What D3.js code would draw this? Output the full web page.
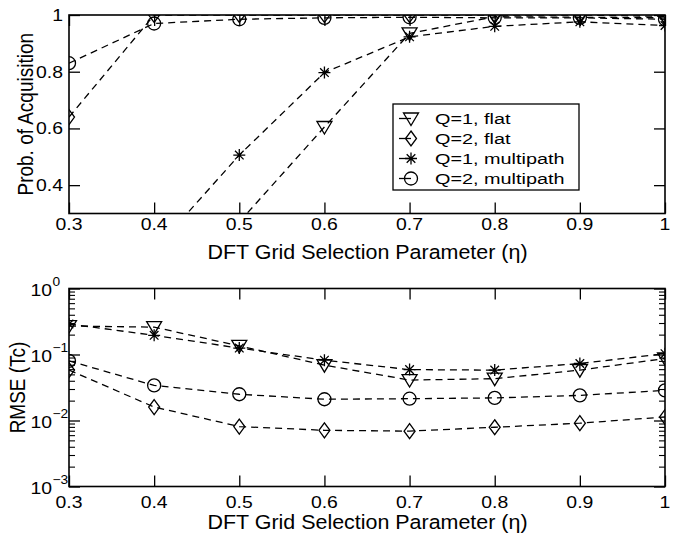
<!DOCTYPE html>
<html>
<head>
<meta charset="utf-8">
<script src="https://cdn.jsdelivr.net/npm/d3@7"></script>
<style>
  html, body { margin: 0; padding: 0; background: #fff; }
  svg { display: block; font-family: "Liberation Sans", Arial, Helvetica, sans-serif; }
</style>
</head>
<body>
<svg id="chart" width="673" height="542"></svg>
<script>
// Grid selection parameter values (x axis)
const etas = [0.3, 0.4, 0.5, 0.6, 0.7, 0.8, 0.9, 1.0];
const etaTicks = [0.3, 0.4, 0.5, 0.6, 0.7, 0.8, 0.9, 1.0];

// Probability of acquisition
const acqQ1Flat  = [0.01, 0.05, 0.27, 0.605, 0.935, 0.994, 0.992, 0.99];
const acqQ2Flat  = [0.64, 1.0, 1.0, 1.0, 1.0, 1.0, 1.0, 0.995];
const acqQ1Multi = [0.05, 0.17, 0.506, 0.797, 0.923, 0.96, 0.976, 0.963];
const acqQ2Multi = [0.83, 0.97, 0.985, 0.99, 0.992, 0.99, 0.99, 0.985];
const acqTicks = [0.4, 0.6, 0.8, 1.0];

// RMSE in chips
const rmseQ1Flat  = [0.27, 0.26, 0.135, 0.069, 0.041, 0.043, 0.058, 0.087];
const rmseQ2Flat  = [0.058, 0.016, 0.0081, 0.0071, 0.0069, 0.0079, 0.0091, 0.0113];
const rmseQ1Multi = [0.29, 0.195, 0.125, 0.082, 0.059, 0.058, 0.073, 0.103];
const rmseQ2Multi = [0.080, 0.034, 0.025, 0.021, 0.0214, 0.022, 0.024, 0.0286];
const rmseTicks = [1, 0.1, 0.01, 0.001];
const rmseExponents = ["0", "\u22121", "\u22122", "\u22123"];

const seriesNames = ["Q=1, flat", "Q=2, flat", "Q=1, multipath", "Q=2, multipath"];
const seriesMarkers = ["triangle", "diamond", "star", "circle"];

const svg = d3.select("#chart");
const left = 69, right = 665;

// Text helper: the typeface is drawn slightly wide
function label(parent, x, y, str, size, sx, anchor) {
  return parent.append("text")
    .attr("transform", `translate(${x},${y}) scale(${sx},1)`)
    .attr("text-anchor", anchor || "start")
    .attr("font-size", size)
    .text(str);
}

// Marker glyphs drawn around (0,0)
function drawMarker(g, type) {
  let el;
  if (type === "triangle") {
    el = g.append("path").attr("d", "M-7.5,-5.5L7.5,-5.5L0,7Z");
  } else if (type === "diamond") {
    el = g.append("path").attr("d", "M0,-7.5L5.5,0L0,7.5L-5.5,0Z");
  } else if (type === "circle") {
    el = g.append("circle").attr("r", 6.5);
  } else {
    const r = 6, d = 4.3;
    el = g.append("path").attr("d",
      `M0,${-r}L0,${r}M${-r},0L${r},0M${-d},${-d}L${d},${d}M${-d},${d}L${d},${-d}`);
  }
  el.attr("fill", "none").attr("stroke", "#000").attr("stroke-width", 1.3);
}

function drawPanel(cfg) {
  const { top, bottom, y, seriesList, clipId } = cfg;
  const x = d3.scaleLinear().domain([0.3, 1.0]).range([left, right]);
  const g = svg.append("g");

  svg.append("defs").append("clipPath").attr("id", clipId)
    .append("rect").attr("x", left).attr("y", top)
    .attr("width", right - left).attr("height", bottom - top);

  // x ticks, bottom and top, inward
  const tickLen = 11;
  g.append("g").attr("transform", `translate(0,${bottom})`)
    .call(d3.axisBottom(x).tickValues(etaTicks).tickSize(-tickLen).tickFormat(() => ""))
    .call(a => a.select(".domain").remove())
    .selectAll("line").attr("stroke", "#000").attr("stroke-width", 1.3);
  g.append("g").attr("transform", `translate(0,${top})`)
    .call(d3.axisTop(x).tickValues(etaTicks).tickSize(-tickLen).tickFormat(() => ""))
    .call(a => a.select(".domain").remove())
    .selectAll("line").attr("stroke", "#000").attr("stroke-width", 1.3);

  // x tick labels
  etaTicks.forEach(d => {
    label(g, x(d), cfg.xLabelBase, d === 1 ? "1" : d3.format(".1f")(d), 16.3, 1.19, "middle");
  });

  cfg.yAxis(g, tickLen);

  // data lines and markers
  const lineGen = d3.line().x((d, i) => x(etas[i])).y(d => y(d));
  const plot = g.append("g").attr("clip-path", `url(#${clipId})`);
  seriesList.forEach(vals => {
    plot.append("path").datum(vals).attr("d", lineGen)
      .attr("fill", "none").attr("stroke", "#000").attr("stroke-width", 1.3)
      .attr("stroke-dasharray", "7,5");
  });
  seriesList.forEach((vals, si) => {
    vals.forEach((v, i) => {
      const mg = plot.append("g").attr("transform", `translate(${x(etas[i])},${y(v)})`);
      drawMarker(mg, seriesMarkers[si]);
    });
  });

  // axes box
  g.append("rect").attr("x", left).attr("y", top)
    .attr("width", right - left).attr("height", bottom - top)
    .attr("fill", "none").attr("stroke", "#000").attr("stroke-width", 1.6);

  // axis titles
  label(g, 367.5, cfg.xTitleBase, "DFT Grid Selection Parameter (\u03b7)", 19.5, 1.1, "middle");
  g.append("text")
    .attr("transform", `translate(${cfg.yTitleX},${(top + bottom) / 2}) rotate(-90) scale(1,1.12)`)
    .attr("text-anchor", "middle").attr("font-size", 19)
    .text(cfg.yTitle);
  return { g, x };
}

// ---- Top panel: probability of acquisition ----
const topTop = 15, topBottom = 213.5;
const yAcq = d3.scaleLinear().domain([0.3, 1.0]).range([topBottom, topTop]);
drawPanel({
  top: topTop, bottom: topBottom, y: yAcq, clipId: "clipTop",
  seriesList: [acqQ1Flat, acqQ2Flat, acqQ1Multi, acqQ2Multi],
  xLabelBase: 230, xTitleBase: 258.5, yTitleX: 33, yTitle: "Prob. of Acquisition",
  yAxis: (g, tickLen) => {
    [[d3.axisLeft, left], [d3.axisRight, right]].forEach(([ax, xp]) => {
      g.append("g").attr("transform", `translate(${xp},0)`)
        .call(ax(yAcq).tickValues(acqTicks).tickSize(-tickLen).tickFormat(() => ""))
        .call(a => a.select(".domain").remove())
        .selectAll("line").attr("stroke", "#000").attr("stroke-width", 1.3);
    });
    acqTicks.forEach(d => {
      label(g, left - 6, yAcq(d) + 6, d === 1 ? "1" : d3.format(".1f")(d), 16.3, 1.19, "end");
    });
  }
});

// Legend
const lg = svg.append("g");
lg.append("rect").attr("x", 393).attr("y", 104).attr("width", 186).attr("height", 86)
  .attr("fill", "#fff").attr("stroke", "#000").attr("stroke-width", 1.3);
seriesNames.forEach((name, i) => {
  const cy = 118.5 + i * 20;
  lg.append("line").attr("x1", 399).attr("x2", 411).attr("y1", cy).attr("y2", cy)
    .attr("stroke", "#000").attr("stroke-width", 1.3);
  const mg = lg.append("g").attr("transform", `translate(411,${cy})`);
  drawMarker(mg, seriesMarkers[i]);
  label(lg, 435, cy + 5.5, name, 15.5, 1.28, "start");
});

// ---- Bottom panel: RMSE (log scale) ----
const botTop = 288.5, botBottom = 486.5;
const yRmse = d3.scaleLog().domain([0.001, 1]).range([botBottom, botTop]);
const minorTicks = [];
[0.001, 0.01, 0.1].forEach(dec => { for (let k = 2; k <= 9; k++) minorTicks.push(dec * k); });

drawPanel({
  top: botTop, bottom: botBottom, y: yRmse, clipId: "clipBot",
  seriesList: [rmseQ1Flat, rmseQ2Flat, rmseQ1Multi, rmseQ2Multi],
  xLabelBase: 508, xTitleBase: 529, yTitleX: 24.5, yTitle: "RMSE (Tc)",
  yAxis: (g, tickLen) => {
    [[d3.axisLeft, left], [d3.axisRight, right]].forEach(([ax, xp]) => {
      g.append("g").attr("transform", `translate(${xp},0)`)
        .call(ax(yRmse).tickValues(rmseTicks).tickSize(-tickLen).tickFormat(() => ""))
        .call(a => a.select(".domain").remove())
        .selectAll("line").attr("stroke", "#000").attr("stroke-width", 1.3);
      g.append("g").attr("transform", `translate(${xp},0)`)
        .call(ax(yRmse).tickValues(minorTicks).tickSize(-6).tickFormat(() => ""))
        .call(a => a.select(".domain").remove())
        .selectAll("line").attr("stroke", "#000").attr("stroke-width", 1.1);
    });
    rmseTicks.forEach((d, i) => {
      label(g, 52, yRmse(d) + 7, "10", 16.3, 1.19, "end");
      label(g, 52.5, yRmse(d) - 3, rmseExponents[i], 12.5, 1.1, "start");
    });
  }
});
</script>
</body>
</html>
